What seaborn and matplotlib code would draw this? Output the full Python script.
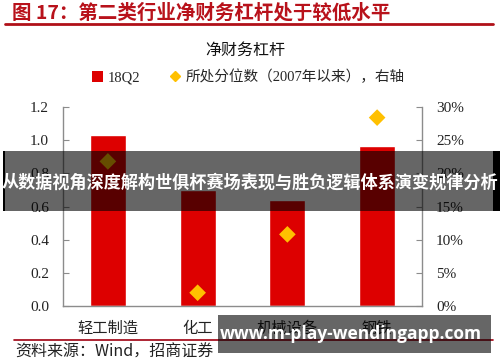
import matplotlib
matplotlib.use("Agg")
import matplotlib.pyplot as plt
import seaborn as sns
import pandas as pd
from matplotlib.patches import Rectangle, Patch
from matplotlib.lines import Line2D
from matplotlib.ticker import FuncFormatter, FixedLocator

# ---- data ----
categories = ["轻工制造", "化工", "机械设备", "钢铁"]
leverage_18q2 = [1.03, 0.70, 0.64, 0.965]
percentile = [0.218, 0.02, 0.108, 0.284]
left_ticks = [0.0, 0.2, 0.4, 0.6, 0.8, 1.0, 1.2]
right_ticks = [0.0, 0.05, 0.10, 0.15, 0.20, 0.25, 0.30]

title_text = "图 17：第二类行业净财务杠杆处于较低水平"
subtitle_text = "净财务杠杆"
legend_bar = "18Q2"
legend_pt = "所处分位数（2007年以来），右轴"
source_text = "资料来源：Wind，招商证券"
banner_text = "从数据视角深度解构世俱杯赛场表现与胜负逻辑体系演变规律分析"
watermark_text = "www.m-play-wendingapp.com"

sns.set_style("white")
plt.rcParams["font.family"] = ["Liberation Serif", "Noto Sans CJK SC", "DejaVu Sans"]

W, H = 500, 362
fig = plt.figure(figsize=(W / 100, H / 100), dpi=100)

def fx(px):
    return px / W

def fy(py):
    return 1 - py / H

ax = fig.add_axes([fx(63), fy(306), fx(422) - fx(63), fy(107) - fy(306)])

df = pd.DataFrame({"cat": categories, "val": leverage_18q2, "pct": percentile})
sns.barplot(data=df, x="cat", y="val", color="#DD0000", saturation=1,
            width=0.4, ax=ax, zorder=2)
ax.set_xlim(-0.5, 3.5)
ax.set_ylim(0, 1.2)
ax.yaxis.set_major_locator(FixedLocator(left_ticks))
ax.yaxis.set_major_formatter(FuncFormatter(lambda v, p: f"{v:.1f}"))
ax.set_xlabel("")
ax.set_ylabel("")

ax2 = ax.twinx()
sns.scatterplot(data=df, x="cat", y="pct", marker="D", s=72, color="#FFC000",
                edgecolor="none", ax=ax2, zorder=3, legend=False)
ax2.set_xlim(-0.5, 3.5)
ax2.set_ylim(0, 0.30)
ax2.yaxis.set_major_locator(FixedLocator(right_ticks))
ax2.yaxis.set_major_formatter(FuncFormatter(lambda v, p: f"{v*100:.0f}%"))
ax2.set_ylabel("")
ax2.set_xlabel("")

spine_c = "#8C8C8C"
for a in (ax, ax2):
    for s in a.spines.values():
        s.set_color(spine_c)
        s.set_linewidth(1.0)
    a.spines["top"].set_visible(False)
ax.spines["right"].set_visible(False)
ax2.spines["left"].set_visible(False)
ax2.spines["bottom"].set_visible(False)

ax.tick_params(axis="y", direction="in", length=4, color=spine_c, labelsize=11,
               labelcolor="#222222", pad=10)
ax2.tick_params(axis="y", direction="in", length=4, color=spine_c, labelsize=11,
                labelcolor="#222222", pad=10)
ax.tick_params(axis="x", which="major", length=0, labelsize=11, pad=10,
               labelcolor="#222222")
ax.set_xticks([0.5, 1.5, 2.5], minor=True)
ax.tick_params(axis="x", which="minor", direction="in", length=4, color=spine_c)
for lab in ax.get_xticklabels():
    lab.set_fontfamily(["Noto Sans CJK SC"])
ax.grid(False)
ax2.grid(False)

# ---- title and texts ----
fig.text(fx(12), fy(13), title_text, color="#B8121B", fontsize=14,
         fontweight="bold", family=["Noto Sans CJK SC"], va="center", ha="left")
fig.add_artist(Line2D([fx(5), fx(493)], [fy(24), fy(24)], color="#B01018", lw=2))
fig.text(fx(245), fy(50), subtitle_text, fontsize=11.5, family=["Noto Sans CJK SC"],
         va="center", ha="center", color="#111111")

handles = [Patch(facecolor="#DD0000", edgecolor="none", label=legend_bar),
           Line2D([], [], marker="D", color="#FFC000", ls="none", markersize=5,
                  label=legend_pt)]
fig.legend(handles=handles, loc="center", bbox_to_anchor=(fx(248), fy(77)),
           ncol=2, frameon=False, fontsize=10.5, handlelength=0.8,
           handleheight=0.8, handletextpad=0.3, columnspacing=2.0)

fig.add_artist(Line2D([fx(14), fx(493)], [fy(340), fy(340)], color="#A00010", lw=1.2))
fig.text(fx(15), fy(352), source_text, fontsize=11.5, family=["Noto Sans CJK SC"],
         va="center", ha="left", color="#222222")

# ---- overlay banner ----
fig.patches.append(Rectangle((fx(3), fy(211)), fx(500) - fx(3), fy(151) - fy(211),
                             transform=fig.transFigure, facecolor="black",
                             alpha=0.6, edgecolor="none", zorder=5))
fig.patches.append(Rectangle((fx(3), fy(211)), fx(2), fy(151) - fy(211),
                             transform=fig.transFigure, facecolor="black",
                             edgecolor="none", zorder=5))
fig.patches.append(Rectangle((fx(493), fy(211)), fx(7), fy(151) - fy(211),
                             transform=fig.transFigure, facecolor="black",
                             edgecolor="none", zorder=5))
fig.text(fx(250), fy(183), banner_text, fontsize=12.3, fontweight="bold",
         family=["Noto Sans CJK SC"], color="white", ha="center", va="center",
         zorder=6)

# ---- watermark box ----
fig.patches.append(Rectangle((fx(218), fy(353)), fx(491) - fx(218), fy(315) - fy(353),
                             transform=fig.transFigure, facecolor="black",
                             alpha=0.6, edgecolor="none", zorder=5))
fig.text(fx(351), fy(334), watermark_text, fontsize=12.5, fontweight="bold",
         family=["Open Sans", "DejaVu Sans"], color="white", ha="center",
         va="center", zorder=6)

fig.savefig("out.png", dpi=100)
